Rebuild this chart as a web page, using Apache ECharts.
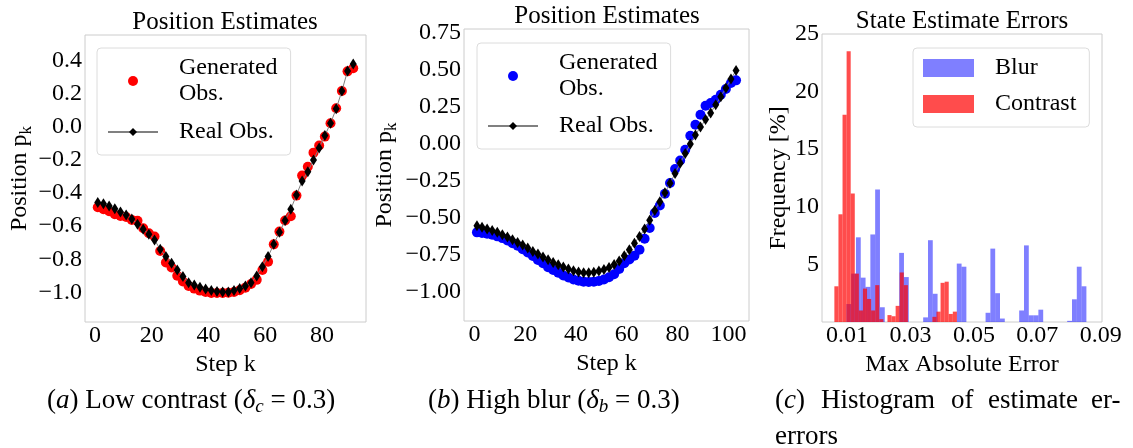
<!DOCTYPE html>
<html>
<head>
<meta charset="utf-8">
<script src="https://cdn.jsdelivr.net/npm/echarts@6/dist/echarts.min.js"></script>
<style>
html, body { margin: 0; padding: 0; background: #fff; }
#main { width: 1133px; height: 448px; }
</style>
</head>
<body>
<div id="main"></div>
<script>
// (a) low contrast: position estimates
let stepsA = [1,3,5,7,9,11,13,15,17,19,21,23,25,27,29,31,33,35,37,39,41,43,45,47,49,51,53,55,57,59,61,63,65,67,69,71,73,75,77,79,81,83,85,87,89,91];
let genA = [-0.486,-0.498,-0.51,-0.528,-0.538,-0.545,-0.562,-0.567,-0.613,-0.643,-0.663,-0.75,-0.82,-0.85,-0.9,-0.935,-0.962,-0.978,-0.99,-0.998,-1.005,-1.005,-1.005,-1.003,-0.998,-0.988,-0.972,-0.95,-0.925,-0.865,-0.815,-0.71,-0.633,-0.566,-0.54,-0.415,-0.294,-0.24,-0.155,-0.112,-0.058,0.023,0.114,0.218,0.337,0.356];
let realA = [-0.457,-0.465,-0.478,-0.494,-0.514,-0.532,-0.556,-0.588,-0.619,-0.649,-0.683,-0.74,-0.784,-0.825,-0.865,-0.905,-0.942,-0.956,-0.97,-0.98,-0.99,-0.996,-0.998,-0.998,-0.99,-0.978,-0.962,-0.942,-0.901,-0.845,-0.784,-0.71,-0.637,-0.566,-0.498,-0.411,-0.326,-0.27,-0.199,-0.127,-0.052,0.023,0.11,0.218,0.339,0.382];

// (b) high blur: position estimates
let stepsB = [1,3,5,7,9,11,13,15,17,19,21,23,25,27,29,31,33,35,37,39,41,43,45,47,49,51,53,55,57,59,61,63,65,67,69,71,73,75,77,79,81,83,85,87,89,91,93,95,97,99,101,103];
let genB = [-0.597,-0.601,-0.606,-0.613,-0.624,-0.636,-0.652,-0.67,-0.688,-0.711,-0.733,-0.756,-0.783,-0.806,-0.833,-0.851,-0.87,-0.888,-0.902,-0.915,-0.924,-0.93,-0.932,-0.93,-0.925,-0.915,-0.9,-0.88,-0.845,-0.805,-0.78,-0.755,-0.714,-0.64,-0.568,-0.466,-0.415,-0.336,-0.264,-0.169,-0.111,-0.039,0.056,0.13,0.198,0.259,0.277,0.299,0.333,0.372,0.412,0.43];
let realB = [-0.552,-0.563,-0.574,-0.584,-0.597,-0.613,-0.629,-0.647,-0.665,-0.682,-0.703,-0.726,-0.743,-0.763,-0.782,-0.8,-0.816,-0.831,-0.845,-0.856,-0.865,-0.87,-0.87,-0.866,-0.858,-0.848,-0.835,-0.815,-0.79,-0.755,-0.715,-0.67,-0.625,-0.575,-0.515,-0.45,-0.39,-0.33,-0.265,-0.2,-0.13,-0.065,0.0,0.06,0.115,0.165,0.21,0.265,0.32,0.378,0.439,0.497];

// (c) histogram of max absolute error, frequency in %
let blurStart = 0.00978, blurWidth = 0.001514;
let blurFreq = [1.56,4.2,7.35,3.85,3.05,7.6,11.5,1.28,0,0,0,6.0,3.9,0,0,0,0.4,7.1,2.45,0,0,0,0,5.07,4.8,0,0,0,0,0.8,6.37,2.5,0.3,0,0,0,1.0,6.65,0.58,0.58,1.07,0,0,0,0,0,0.1,1.97,4.8,3.1];
let contrastStart = 0.0060, contrastWidth = 0.001288;
let contrastFreq = [3.1,9.35,18.0,23.5,11.15,4.2,1.0,2.9,2.0,1.0,3.2,0.25,0,0.6,0.5,1.4,4.3,3.2,0,0,0,0,0,0,0.45,0.9,3.4,3.5,0.7,0.9];

// tick labels
let xTicksA = [0,20,40,60,80];
let yTicksA = [-1.0,-0.8,-0.6,-0.4,-0.2,0.0,0.2,0.4];
let xTicksB = [0,20,40,60,80,100];
let yTicksB = [-1.0,-0.75,-0.5,-0.25,0.0,0.25,0.5,0.75];
let xTicksC = [0.01,0.03,0.05,0.07,0.09];
let yTicksC = [5,10,15,20,25];

const FONT = 'Liberation Serif';
const FRAME = '#cccccc';

let labelMap = {
    genA: 'Generated\nObs.',
    realA: 'Real Obs.',
    genB: 'Generated\nObs.',
    realB: 'Real Obs.',
    Blur: 'Blur',
    Contrast: 'Contrast'
};

function fmt(v, d) {
    return v.toFixed(d).replace('-', '\u2212');
}

function pairs(xs, ys) {
    return xs.map(function (x, i) { return [x, ys[i]]; });
}

function bins(start, width, freq) {
    let out = [];
    freq.forEach(function (f, i) {
        if (f > 0) out.push([start + i * width, start + (i + 1) * width, f]);
    });
    return out;
}

function renderBin(params, api) {
    let p0 = api.coord([api.value(0), api.value(2)]);
    let p1 = api.coord([api.value(1), 0]);
    return {
        type: 'rect',
        shape: { x: p0[0], y: p0[1], width: p1[0] - p0[0], height: p1[1] - p0[1] },
        style: { fill: api.visual('color') }
    };
}

function xAxisOf(grid, min, max, ticks, digits, name) {
    return {
        type: 'value', gridIndex: grid, min: min, max: max,
        axisLine: { show: false }, axisTick: { show: false }, splitLine: { show: false },
        axisLabel: {
            customValues: ticks, margin: 2, color: '#000', fontSize: 24, fontFamily: FONT,
            formatter: function (v) { return fmt(v, digits); }
        },
        name: name, nameLocation: 'middle', nameGap: 16,
        nameTextStyle: { color: '#000', fontSize: 24, fontFamily: FONT }
    };
}

function yAxisOf(grid, min, max, ticks, digits, name, gap) {
    return {
        type: 'value', gridIndex: grid, min: min, max: max,
        axisLine: { show: false }, axisTick: { show: false }, splitLine: { show: false },
        axisLabel: {
            customValues: ticks, margin: 3, color: '#000', fontSize: 24, fontFamily: FONT,
            formatter: function (v) { return fmt(v, digits); }
        },
        name: name, nameLocation: 'middle', nameGap: gap, nameRotate: 90,
        nameTextStyle: {
            color: '#000', fontSize: 24, fontFamily: FONT,
            rich: {
                a: { fontSize: 24, fontFamily: FONT, color: '#000', lineHeight: 30 },
                b: { fontSize: 17, fontFamily: FONT, color: '#000', verticalAlign: 'bottom', lineHeight: 13 }
            }
        }
    };
}

function legendOf(names, left, top, w, h, gap) {
    return {
        data: names, orient: 'vertical', left: left, top: top,
        itemWidth: w, itemHeight: h, itemGap: gap,
        padding: [7, 13, 10, 10], selectedMode: false,
        backgroundColor: '#fff', borderColor: '#dcdcdc', borderWidth: 1, borderRadius: 4,
        formatter: function (n) { return labelMap[n]; },
        textStyle: { color: '#000', fontSize: 24, fontFamily: FONT, lineHeight: 26, padding: [0, 0, 0, 16] }
    };
}

function title(text, x, y) {
    return { type: 'text', x: x, y: y, style: { text: text, fill: '#000', font: '25px ' + FONT, align: 'center', verticalAlign: 'middle' } };
}

let capRich = {
    n: { fontSize: 27, fontFamily: FONT, color: '#000', lineHeight: 30 },
    i: { fontSize: 27, fontFamily: FONT, fontStyle: 'italic', color: '#000', lineHeight: 30 },
    s: { fontSize: 19, fontFamily: FONT, fontStyle: 'italic', color: '#000', verticalAlign: 'bottom', lineHeight: 15 }
};

function caption(text, x, y) {
    return { type: 'text', x: x, y: y, style: { text: text, rich: capRich, fill: '#000', font: '27px ' + FONT, verticalAlign: 'middle' } };
}

let chart = echarts.init(document.getElementById('main'));
chart.setOption({
    animation: false,
    backgroundColor: '#fff',
    grid: [
        { left: 85, top: 35, width: 281, height: 287, show: true, borderColor: FRAME, borderWidth: 1 },
        { left: 464, top: 29, width: 285, height: 292, show: true, borderColor: FRAME, borderWidth: 1 },
        { left: 822, top: 34, width: 280, height: 288, show: true, borderColor: FRAME, borderWidth: 1 }
    ],
    xAxis: [
        xAxisOf(0, -3.5, 95.5, xTicksA, 0, 'Step k'),
        xAxisOf(1, -4.1, 108.1, xTicksB, 0, 'Step k'),
        xAxisOf(2, 0.0021, 0.0904, xTicksC, 2, 'Max Absolute Error')
    ],
    yAxis: [
        yAxisOf(0, -1.18, 0.557, yTicksA, 1, '{a|Position p}{b|k}', 48),
        yAxisOf(1, -1.196, 0.777, yTicksB, 2, '{a|Position p}{b|k}', 64),
        yAxisOf(2, 0, 25, yTicksC, 0, 'Frequency [%]', 25)
    ],
    legend: [
        legendOf(['genA', 'realA'], 97, 48, 50, 10, 12),
        legendOf(['genB', 'realB'], 477, 43, 50, 10, 11),
        legendOf([{ name: 'Blur', icon: 'rect' }, { name: 'Contrast', icon: 'rect' }], 913, 48, 51, 18, 10)
    ],
    series: [
        {
            name: 'genA', type: 'scatter', xAxisIndex: 0, yAxisIndex: 0,
            symbol: 'circle', symbolSize: 10, itemStyle: { color: '#ff0000', opacity: 1 },
            data: pairs(stepsA, genA)
        },
        {
            name: 'realA', type: 'line', xAxisIndex: 0, yAxisIndex: 0,
            symbol: 'diamond', symbolSize: [7, 11], showSymbol: true,
            lineStyle: { color: '#808080', width: 1 }, itemStyle: { color: '#000' },
            data: pairs(stepsA, realA)
        },
        {
            name: 'genB', type: 'scatter', xAxisIndex: 1, yAxisIndex: 1,
            symbol: 'circle', symbolSize: 10, itemStyle: { color: '#0000ff', opacity: 1 },
            data: pairs(stepsB, genB)
        },
        {
            name: 'realB', type: 'line', xAxisIndex: 1, yAxisIndex: 1,
            symbol: 'diamond', symbolSize: [7, 11], showSymbol: true,
            lineStyle: { color: '#808080', width: 1 }, itemStyle: { color: '#000' },
            data: pairs(stepsB, realB)
        },
        {
            name: 'Blur', type: 'custom', xAxisIndex: 2, yAxisIndex: 2,
            renderItem: renderBin, encode: { x: [0, 1], y: 2 },
            itemStyle: { color: 'rgba(0,0,255,0.5)' },
            data: bins(blurStart, blurWidth, blurFreq)
        },
        {
            name: 'Contrast', type: 'custom', xAxisIndex: 2, yAxisIndex: 2,
            renderItem: renderBin, encode: { x: [0, 1], y: 2 },
            itemStyle: { color: 'rgba(255,0,0,0.7)' },
            data: bins(contrastStart, contrastWidth, contrastFreq)
        }
    ],
    graphic: [
        title('Position Estimates', 225, 22),
        title('Position Estimates', 607, 16),
        title('State Estimate Errors', 962, 21),
        caption('{n|(}{i|a}{n|) Low contrast (}{i|δ}{s|c}{n| = 0.3)}', 47, 401),
        caption('{n|(}{i|b}{n|) High blur (}{i|δ}{s|b}{n| = 0.3)}', 428, 401),
        caption('{n|(}{i|c}{n|)}', 775, 401),
        caption('{n|Histogram}', 821, 401),
        caption('{n|of}', 951, 401),
        caption('{n|estimate}', 988, 401),
        caption('{n|er-}', 1091, 401),
        caption('{n|errors}', 775, 437)
    ]
});
</script>
</body>
</html>
